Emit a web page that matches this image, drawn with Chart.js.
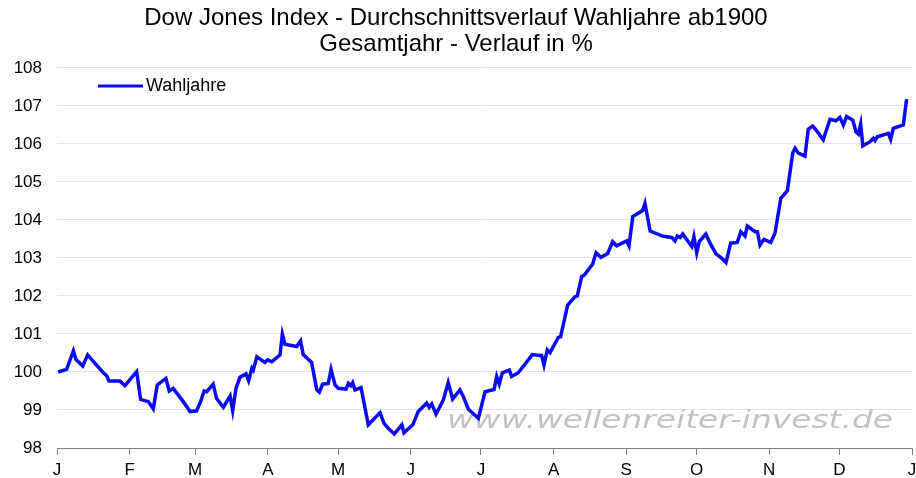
<!DOCTYPE html>
<html>
<head>
<meta charset="utf-8">
<script src="https://cdn.jsdelivr.net/npm/chart.js@4"></script>
<style>
  html, body { margin: 0; padding: 0; background: #fff; }
  #wrap { width: 916px; height: 478px; }
</style>
</head>
<body>
<div id="wrap"><canvas id="chart"></canvas></div>
<script>
// day of year of each point
const days = [
  0.5, 4.1, 7.0, 8.1, 11.0, 13.1, 15.2, 19.8, 21.2, 22.2, 26.9, 29.0, 34.0, 35.7, 39.0, 41.1,
  42.8, 46.5, 47.9, 49.6, 53.9, 56.8, 59.6, 61.3, 62.8, 63.9, 66.7, 68.1, 71.0, 73.9, 75.0,
  76.4, 78.1, 80.7, 81.8, 83.2, 83.8, 85.3, 88.8, 89.9, 91.7, 95.2, 96.2, 97.3, 102.3, 104.0,
  105.1, 108.7, 110.9, 112.0, 113.4, 115.8, 117.0, 118.7, 120.1, 123.4, 124.4, 125.4, 126.2,
  127.2, 129.8, 132.9, 137.9, 139.6, 141.4, 144.0, 147.2, 148.1, 151.9, 154.2, 157.8, 158.9,
  160.0, 161.8, 164.9, 167.0, 168.9, 172.0, 173.2, 175.6, 179.9, 182.7, 186.6, 187.7, 188.8,
  190.1, 193.1, 194.1, 196.9, 201.2, 202.9, 206.9, 207.9, 209.3, 210.5, 214.0, 215.0, 218.0,
  221.1, 222.1, 224.0, 225.1, 228.7, 230.1, 232.2, 235.1, 237.2, 238.9, 243.2, 244.2, 245.8,
  250.0, 251.0, 253.2, 258.8, 262.5, 263.8, 264.8, 266.0, 267.1, 271.0, 271.9, 273.1, 274.2,
  277.0, 278.8, 281.3, 283.3, 285.6, 287.6, 290.4, 291.9, 293.7, 294.7, 298.0, 299.0, 300.1,
  301.8, 304.7, 306.5, 309.0, 311.8, 314.1, 315.1, 316.5, 319.3, 320.7, 322.6, 324.0, 327.1,
  330.0, 332.5, 334.2, 335.7, 337.1, 339.7, 341.1, 342.1, 343.1, 344.0, 347.1, 348.5, 349.2,
  350.2, 354.9, 355.9, 357.0, 361.3, 362.7
];

const wahljahre = [
  100.00, 100.07, 100.56, 100.33, 100.16, 100.45, 100.30, 99.98, 99.90, 99.76, 99.76, 99.64, 100.01, 99.28, 99.22, 99.03,
  99.66, 99.83, 99.50, 99.57, 99.22, 98.96, 98.98, 99.22, 99.50, 99.48, 99.68, 99.31, 99.07, 99.37, 98.98,
  99.57, 99.86, 99.95, 99.77, 100.10, 100.05, 100.40, 100.25, 100.32, 100.27, 100.45, 101.00, 100.73, 100.67, 100.82,
  100.46, 100.25, 99.53, 99.47, 99.68, 99.70, 100.07, 99.66, 99.57, 99.55, 99.70, 99.64, 99.72,
  99.53, 99.59, 98.61, 98.93, 98.65, 98.52, 98.37, 98.61, 98.40, 98.61, 98.96, 99.18, 99.07,
  99.16, 98.89, 99.26, 99.72, 99.29, 99.53, 99.39, 99.02, 98.78, 99.48, 99.54, 99.88, 99.68,
  99.98, 100.05, 99.88, 99.98, 100.32, 100.46, 100.43, 100.18, 100.58, 100.51, 100.91, 100.93, 101.76,
  101.98, 102.00, 102.51, 102.55, 102.84, 103.14, 103.02, 103.12, 103.43, 103.32, 103.45, 103.32, 104.09,
  104.25, 104.44, 103.71, 103.57, 103.54, 103.45, 103.58, 103.54, 103.63, 103.30, 103.56, 103.14, 103.43,
  103.63, 103.39, 103.11, 103.02, 102.88, 103.39, 103.41, 103.69, 103.58, 103.84, 103.69, 103.69, 103.34,
  103.49, 103.41, 103.65, 104.57, 104.77, 105.77, 105.89, 105.76, 105.68, 106.39, 106.47, 106.37, 106.11,
  106.65, 106.61, 106.70, 106.50, 106.72, 106.63, 106.32, 106.26, 106.53, 105.95, 106.06, 106.15, 106.09,
  106.19, 106.28, 106.12, 106.41, 106.50, 107.18
];

const monthStarts = [0, 31, 59, 90, 120, 151, 181, 212, 243, 273, 304, 334, 365];
const monthLabels = ["J", "F", "M", "A", "M", "J", "J", "A", "S", "O", "N", "D", "J"];

const titleLines = [
  "Dow Jones Index - Durchschnittsverlauf Wahljahre ab1900",
  "Gesamtjahr - Verlauf in %",
];
const watermark = "www.wellenreiter-invest.de";

const FONT = "'Liberation Sans', Arial, sans-serif";

const plugin_extras = {
  id: "extras",
  beforeDatasetsDraw: (chart) => {
    // watermark, stretched sideways to its width in the original
    const ctx = chart.ctx;
    const a = chart.chartArea;
    ctx.save();
    ctx.font = "oblique 24px 'DejaVu Sans', sans-serif";
    const w = ctx.measureText(watermark).width;
    const target = 446;
    ctx.translate(a.right - 19 - target, 428);
    ctx.scale(target / w, 1);
    ctx.fillStyle = "#c2c2c2";
    ctx.textAlign = "left";
    ctx.textBaseline = "alphabetic";
    ctx.fillText(watermark, 0, 0);
    ctx.restore();
  },
  afterDatasetsDraw: (chart) => {
    // legend inside the plot
    const ctx = chart.ctx;
    const a = chart.chartArea;
    const ds = chart.data.datasets[0];
    ctx.save();
    ctx.strokeStyle = ds.borderColor;
    ctx.lineWidth = 3;
    ctx.beginPath();
    ctx.moveTo(a.left + 41, 86);
    ctx.lineTo(a.left + 86, 86);
    ctx.stroke();
    ctx.font = "18px " + FONT;
    ctx.fillStyle = "#000";
    ctx.textBaseline = "middle";
    ctx.fillText(ds.label, a.left + 89, 86);
    ctx.restore();
  },
};

new Chart(document.getElementById("chart"), {
  type: "line",
  data: {
    datasets: [
      {
        label: "Wahljahre",
        data: days.map((d, i) => ({ x: d, y: wahljahre[i] })),
        borderColor: "#0a0af5",
        borderWidth: 3.5,
        pointRadius: 0,
        tension: 0,
        fill: false,
      },
    ],
  },
  options: {
    responsive: true,
    maintainAspectRatio: false,
    animation: false,
    layout: { padding: { left: 0, right: 4, top: 0, bottom: 0 } },
    plugins: {
      legend: { display: false },
      tooltip: { enabled: false },
      title: {
        display: true,
        text: titleLines,
        color: "#000",
        font: { family: FONT, size: 24, weight: "normal", lineHeight: 1.083 },
        padding: { top: 5, bottom: 11 },
      },
    },
    scales: {
      x: {
        type: "linear",
        min: 0,
        max: 365,
        afterBuildTicks: (scale) => {
          scale.ticks = monthStarts.map((v) => ({ value: v }));
        },
        afterFit: (scale) => {
          scale.height = 30;
          scale.paddingLeft = 0;
          scale.paddingRight = 0;
        },
        ticks: {
          autoSkip: false,
          maxRotation: 0,
          padding: 5,
          color: "#000",
          font: { family: FONT, size: 17 },
          callback: (value, index) => monthLabels[index],
        },
        grid: {
          drawOnChartArea: false,
          tickLength: 7,
          color: "#808080",
        },
        border: { color: "#808080", width: 1 },
      },
      y: {
        min: 98,
        max: 108,
        afterFit: (scale) => {
          scale.width = 57;
        },
        ticks: {
          stepSize: 1,
          padding: 15,
          color: "#000",
          font: { family: FONT, size: 17 },
        },
        grid: {
          drawTicks: false,
          color: "#e3e3e3",
          lineWidth: 1,
        },
        border: { display: false },
      },
    },
  },
  plugins: [plugin_extras],
});
</script>
</body>
</html>
